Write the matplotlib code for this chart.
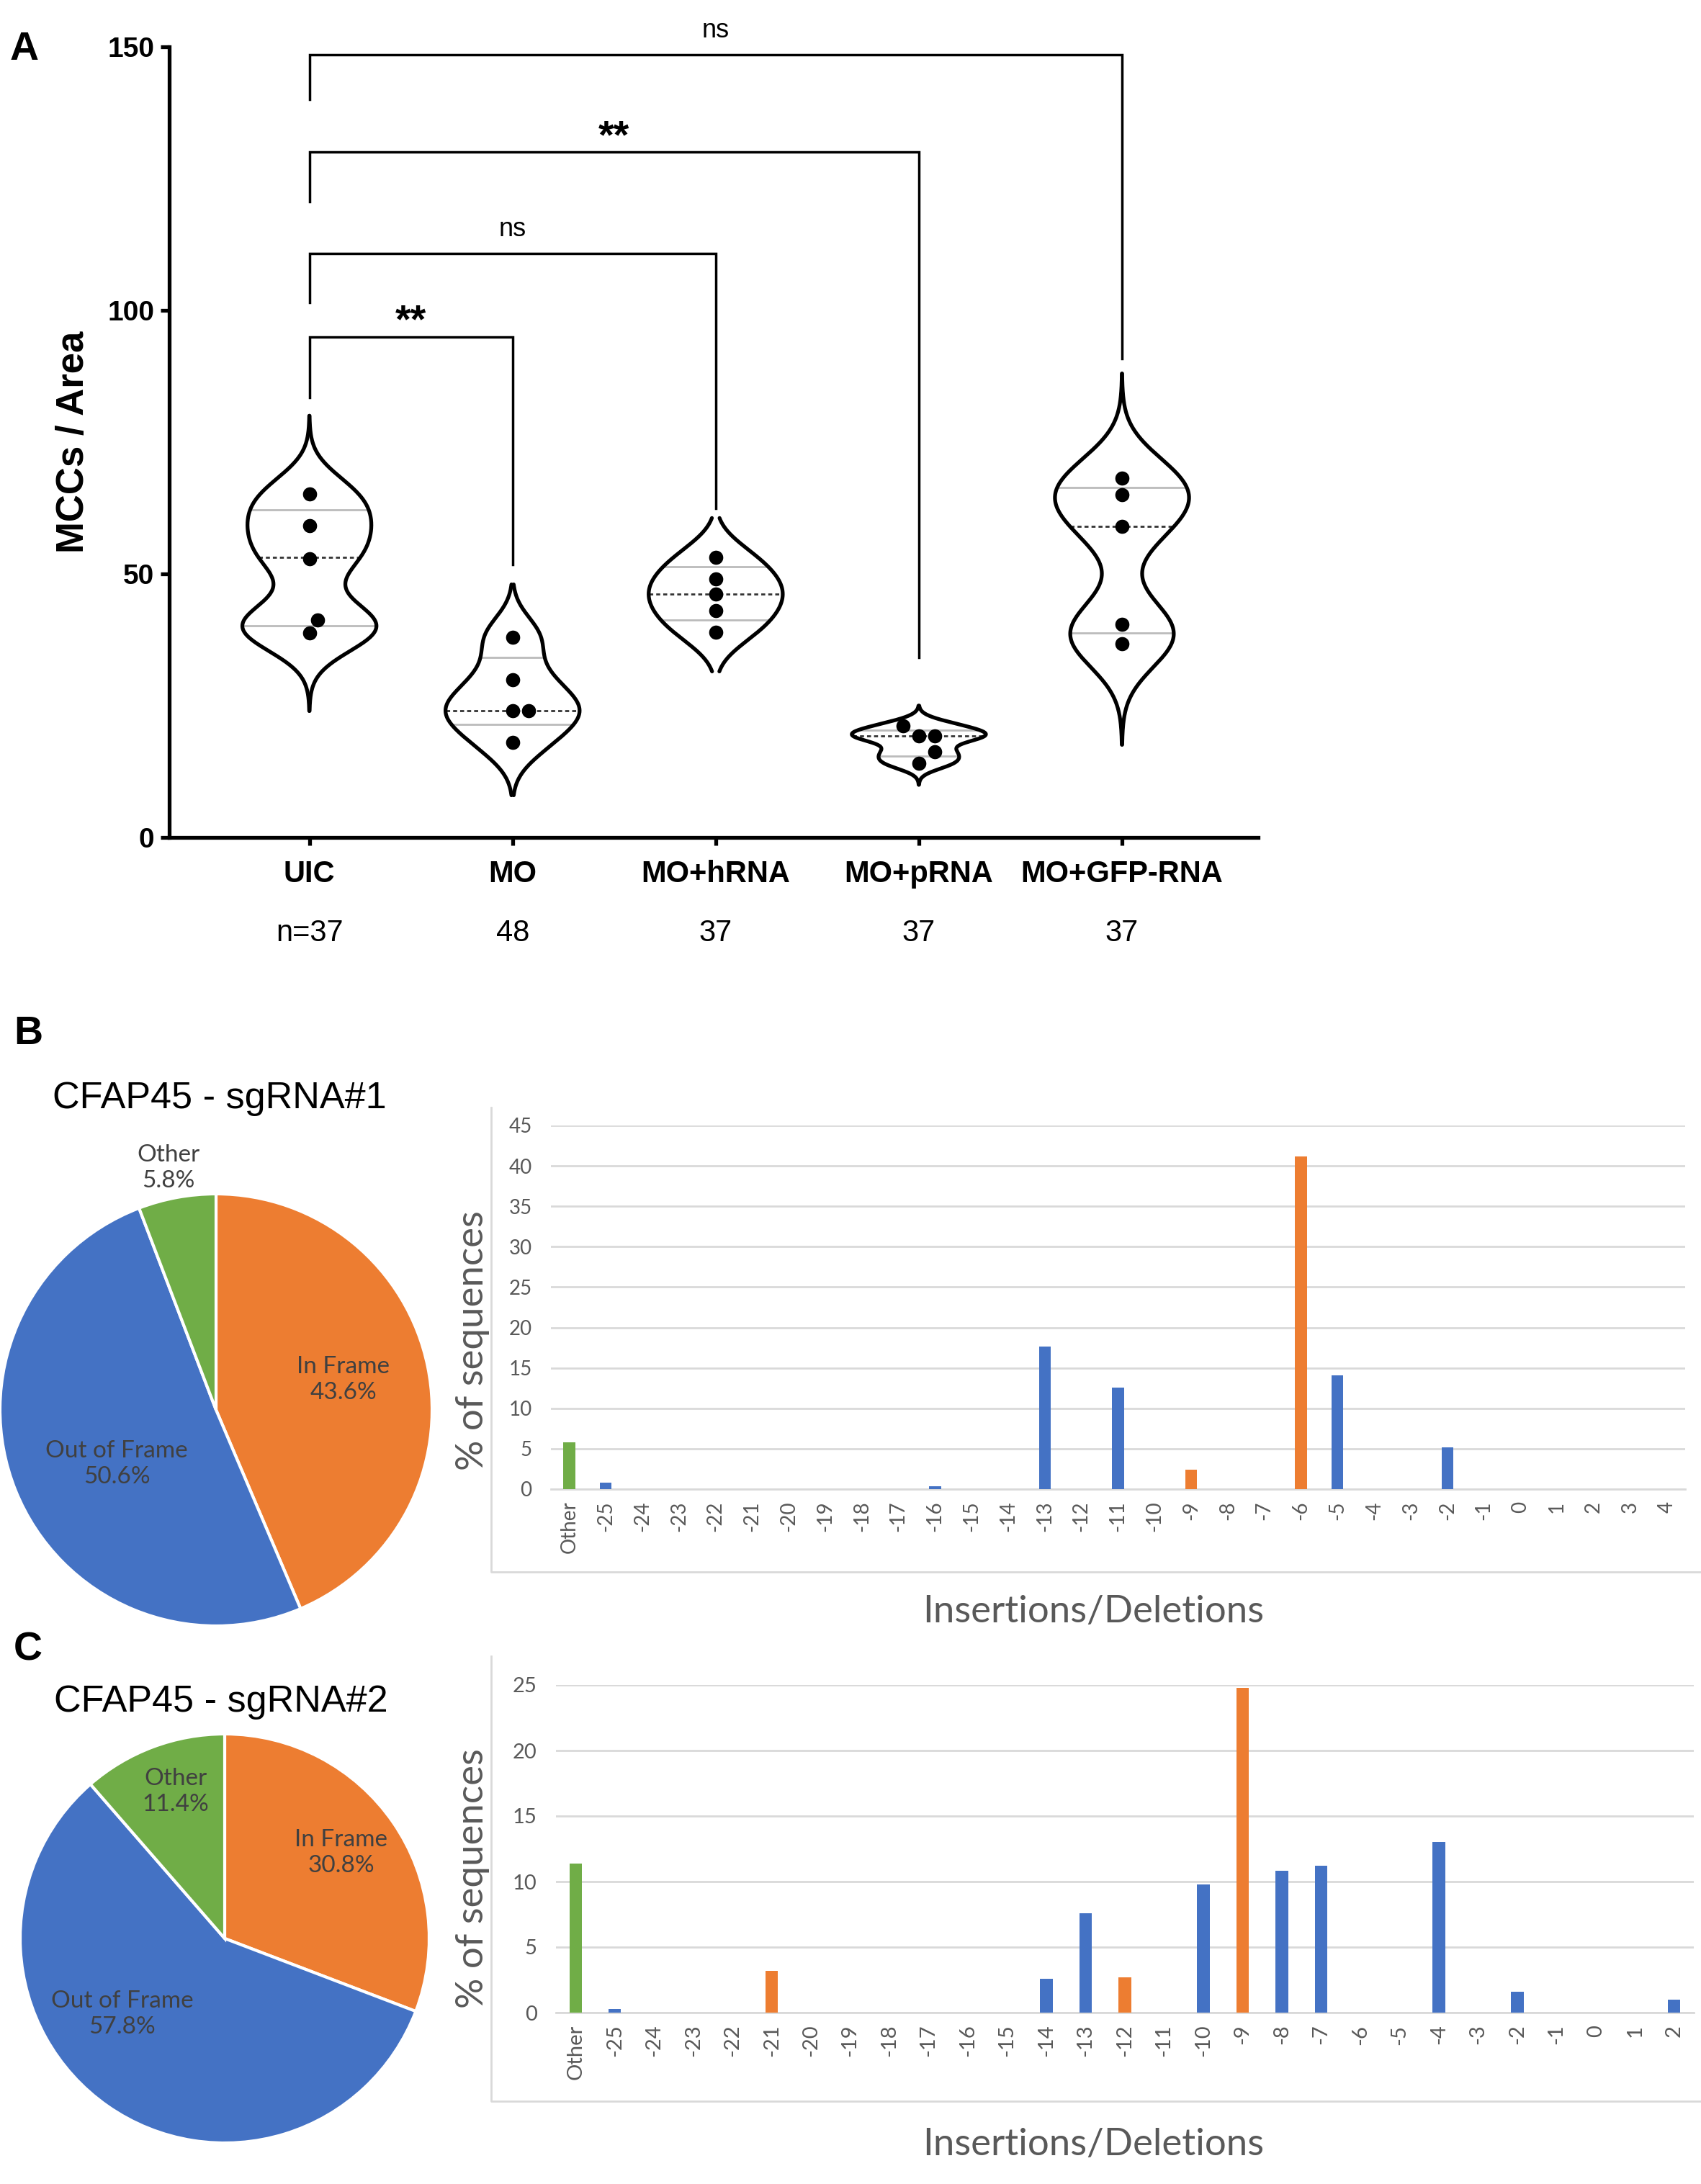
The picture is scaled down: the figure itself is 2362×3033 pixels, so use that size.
import numpy as np
import matplotlib as mpl
import matplotlib.pyplot as plt
from matplotlib.lines import Line2D

mpl.rcParams['font.family'] = ['Liberation Sans', 'DejaVu Sans']

# ---------------- data ----------------
groups = ['UIC', 'MO', 'MO+hRNA', 'MO+pRNA', 'MO+GFP-RNA']
n_labels = ['n=37', '48', '37', '37', '37']
dots = [[38.8, 41.2, 52.9, 59.1, 65.1],
        [18.0, 24.0, 24.0, 29.9, 38.0],
        [39.0, 43.0, 46.2, 49.0, 53.2],
        [14.1, 16.2, 19.2, 19.3, 21.2],
        [36.8, 40.4, 59.0, 65.0, 68.2]]
medians = [53.2, 24.0, 46.2, 19.3, 59.0]
q1 = [40.2, 21.4, 41.2, 15.5, 38.8]
q3 = [62.1, 34.1, 51.3, 20.3, 66.4]
violin_lo = [24.0, 8.0, 31.5, 10.0, 17.6]
violin_hi = [80.0, 48.0, 60.6, 25.0, 88.0]
bandwidth = [4.5, 4.0, 3.8, 1.3, 6.0]

comparisons = [(0, 1), (0, 2), (0, 3), (0, 4)]
bracket_y = [95.0, 110.8, 130.0, 148.5]
leg_left = [83.5, 101.5, 120.6, 140.0]
leg_right = [51.8, 62.4, 34.1, 90.8]
sig = ['**', 'ns', '**', 'ns']

indel_b = ['Other', '-25', '-24', '-23', '-22', '-21', '-20', '-19', '-18', '-17',
           '-16', '-15', '-14', '-13', '-12', '-11', '-10', '-9', '-8', '-7',
           '-6', '-5', '-4', '-3', '-2', '-1', '0', '1', '2', '3', '4']
pct_b = [5.8, 0.8, 0, 0, 0, 0, 0, 0, 0, 0,
         0.4, 0, 0, 17.6, 0, 12.6, 0, 2.4, 0, 0,
         41.2, 14.1, 0, 0, 5.2, 0, 0, 0, 0, 0, 0]

indel_c = ['Other', '-25', '-24', '-23', '-22', '-21', '-20', '-19', '-18', '-17',
           '-16', '-15', '-14', '-13', '-12', '-11', '-10', '-9', '-8', '-7',
           '-6', '-5', '-4', '-3', '-2', '-1', '0', '1', '2']
pct_c = [11.4, 0.3, 0, 0, 0, 3.2, 0, 0, 0, 0,
         0, 0, 2.6, 7.6, 2.7, 0, 9.8, 24.8, 10.8, 11.2,
         0, 0, 13.0, 0, 1.6, 0, 0, 0, 1.0]

pie_labels = ['In Frame', 'Out of Frame', 'Other']
pie_b = [43.6, 50.6, 5.8]
pie_c = [30.8, 57.8, 11.4]

BLUE, ORANGE, GREEN = '#4472C4', '#ED7D31', '#70AD47'
GRAY_TXT = '#595959'
GRID = '#D9D9D9'

# ---------------- figure ----------------
W, H = 2362, 3033
fig = plt.figure(figsize=(W / 100, H / 100), dpi=100)


def fx(px):
    return px / W


def fy(py):
    return 1 - py / H


def swarm(vals, xpx=282.0, ypx=7.32, d=20.0):
    placed, offs = [], []
    for v in vals:
        for k in [0, 1, -1, 2, -2, 3, -3]:
            ox = k * d * 0.55
            if all((ox - px) ** 2 + ((v - pv) * ypx) ** 2 >= 0.9 * d * d for px, pv in placed):
                break
        placed.append((ox, v))
        offs.append(ox / xpx)
    return offs


# ---------------- panel A ----------------
axA = fig.add_axes([fx(235), fy(1163), (1747 - 235) / W, (1163 - 65) / H])
for i, vals in enumerate(dots):
    yy = np.linspace(violin_lo[i], violin_hi[i], 400)
    dens = np.exp(-0.5 * ((yy[:, None] - np.array(vals)[None, :]) / bandwidth[i]) ** 2).sum(1)
    half = 0.33 * dens / dens.max()
    axA.fill_betweenx(yy, i - half, i + half, facecolor='white', edgecolor='none', zorder=2)
    axA.plot(i - half, yy, color='black', lw=3.8, zorder=3, solid_capstyle='round')
    axA.plot(i + half, yy, color='black', lw=3.8, zorder=3, solid_capstyle='round')
    for q in (q1[i], q3[i]):
        w = np.interp(q, yy, half)
        axA.plot([i - w, i + w], [q, q], color='#BBBBBB', lw=2, zorder=2.5)
    w = np.interp(medians[i], yy, half)
    axA.plot([i - w, i + w], [medians[i], medians[i]], color='#333333', lw=2,
             ls=(0, (2, 1.5)), zorder=2.5)
    offs = swarm(vals)
    axA.scatter(np.array(offs) + i, vals, s=200, color='black', zorder=4, linewidths=0)

for (a, b), h, ll, lr, s in zip(comparisons, bracket_y, leg_left, leg_right, sig):
    axA.plot([a, a, b, b], [ll, h, h, lr], color='black', lw=2.5, clip_on=False,
             solid_joinstyle='miter')
    if s == 'ns':
        axA.text((a + b) / 2, h + 3.3, s, ha='center', va='baseline', fontsize=26)
    else:
        axA.text((a + b) / 2, h + 0.8, s, ha='center', va='baseline', fontsize=40,
                 fontweight='bold')

axA.set_xlim(-0.69, 4.67)
axA.set_ylim(0, 150)
for sp in ['top', 'right']:
    axA.spines[sp].set_visible(False)
for sp in ['left', 'bottom']:
    axA.spines[sp].set_linewidth(3.8)
axA.set_yticks([0, 50, 100, 150])
axA.set_xticks(range(len(groups)))
axA.set_xticklabels(groups, fontsize=30, fontweight='bold')
for lab in axA.get_yticklabels():
    lab.set_fontweight('bold')
axA.tick_params(axis='y', labelsize=28, length=9, width=3.8, pad=6)
axA.tick_params(axis='x', length=8, width=3.8, pad=14)
axA.set_ylabel('MCCs / Area', fontsize=38, fontweight='bold')
axA.yaxis.set_label_coords(-(235 - 127) / 1512, 0.5)
for i, t in enumerate(n_labels):
    axA.text(i, -(1296 - 1163) / 1098, t, transform=axA.get_xaxis_transform(),
             ha='center', va='center', fontsize=30)

fig.text(fx(34), fy(69), 'A', fontsize=40, fontweight='bold', ha='center', va='center')


# ---------------- panels B / C ----------------
def bar_colors(labels):
    cols = []
    for lab in labels:
        if lab == 'Other':
            cols.append(GREEN)
        elif int(lab) % 3 == 0:
            cols.append(ORANGE)
        else:
            cols.append(BLUE)
    return cols


def bar_panel(rect, labels, vals, ymax, lblsize):
    ax = fig.add_axes(rect)
    x = np.arange(len(vals))
    ax.bar(x, vals, width=0.32, color=bar_colors(labels), zorder=3)
    ax.set_xlim(-0.5, len(vals) - 0.5)
    ax.set_ylim(0, ymax)
    ax.set_yticks(np.arange(0, ymax + 1, 5))
    ax.set_xticks(x)
    ax.set_xticklabels(labels, rotation=90, family=['Lato', 'DejaVu Sans'])
    for lab in ax.get_yticklabels():
        lab.set_family(['Lato', 'DejaVu Sans'])
    ax.grid(axis='y', color=GRID, lw=2, zorder=0)
    ax.set_axisbelow(True)
    for sp in ['top', 'right', 'left']:
        ax.spines[sp].set_visible(False)
    ax.spines['bottom'].set_color(GRID)
    ax.spines['bottom'].set_linewidth(2)
    ax.tick_params(axis='both', length=0, labelsize=lblsize, labelcolor=GRAY_TXT)
    ax.tick_params(axis='x', pad=12)
    ax.tick_params(axis='y', pad=19)
    return ax


bar_panel([fx(765), fy(2068), (2340 - 765) / W, (2068 - 1563) / H], indel_b, pct_b, 45, 20)
bar_panel([fx(772), fy(2795), (2352 - 772) / W, (2795 - 2340) / H], indel_c, pct_c, 25, 21)

for top, bot in [(1538, 2183), (2300, 2918)]:
    fig.add_artist(Line2D([fx(682), fx(682), fx(W)], [fy(top), fy(bot), fy(bot)],
                          color=GRID, lw=2, transform=fig.transFigure))

for yc in [1862, 2609]:
    fig.text(fx(656), fy(yc), '% of sequences', rotation=90, ha='center', va='center',
             fontsize=38, color=GRAY_TXT, family=['Lato', 'DejaVu Sans'])
for yc in [2238, 2978]:
    fig.text(fx(1518), fy(yc), 'Insertions/Deletions', ha='center', va='center',
             fontsize=38, color=GRAY_TXT, family=['Lato', 'DejaVu Sans'])


def pie_panel(rect, vals, label_xy):
    ax = fig.add_axes(rect)
    ax.pie(vals, colors=[ORANGE, BLUE, GREEN], startangle=90, counterclock=False,
           wedgeprops=dict(edgecolor='white', linewidth=3))
    ax.set_xlim(-1, 1)
    ax.set_ylim(-1, 1)
    ax.set_aspect('equal')
    for name, v, (tx, ty) in zip(pie_labels, vals, label_xy):
        ax.text(tx, ty, '%s\n%.1f%%' % (name, v), ha='center', va='center', fontsize=24,
                color='#404040', linespacing=1.25, family=['Lato', 'DejaVu Sans'])
    return ax


pie_panel([fx(0), fy(2258), 600 / W, 600 / H], pie_b,
          [(0.59, 0.14), (-0.46, -0.25), (-0.22, 1.12)])
pie_panel([fx(28), fy(2976), 568 / W, 568 / H], pie_c,
          [(0.57, 0.42), (-0.50, -0.37), (-0.24, 0.72)])

fig.text(fx(305), fy(1526), 'CFAP45 - sgRNA#1', fontsize=37.5, ha='center', va='center')
fig.text(fx(307), fy(2363), 'CFAP45 - sgRNA#2', fontsize=37.5, ha='center', va='center')
fig.text(fx(39), fy(1436), 'B', fontsize=40, fontweight='bold', ha='center', va='center')
fig.text(fx(39), fy(2292), 'C', fontsize=40, fontweight='bold', ha='center', va='center')

fig.savefig('out.png', dpi=100)
